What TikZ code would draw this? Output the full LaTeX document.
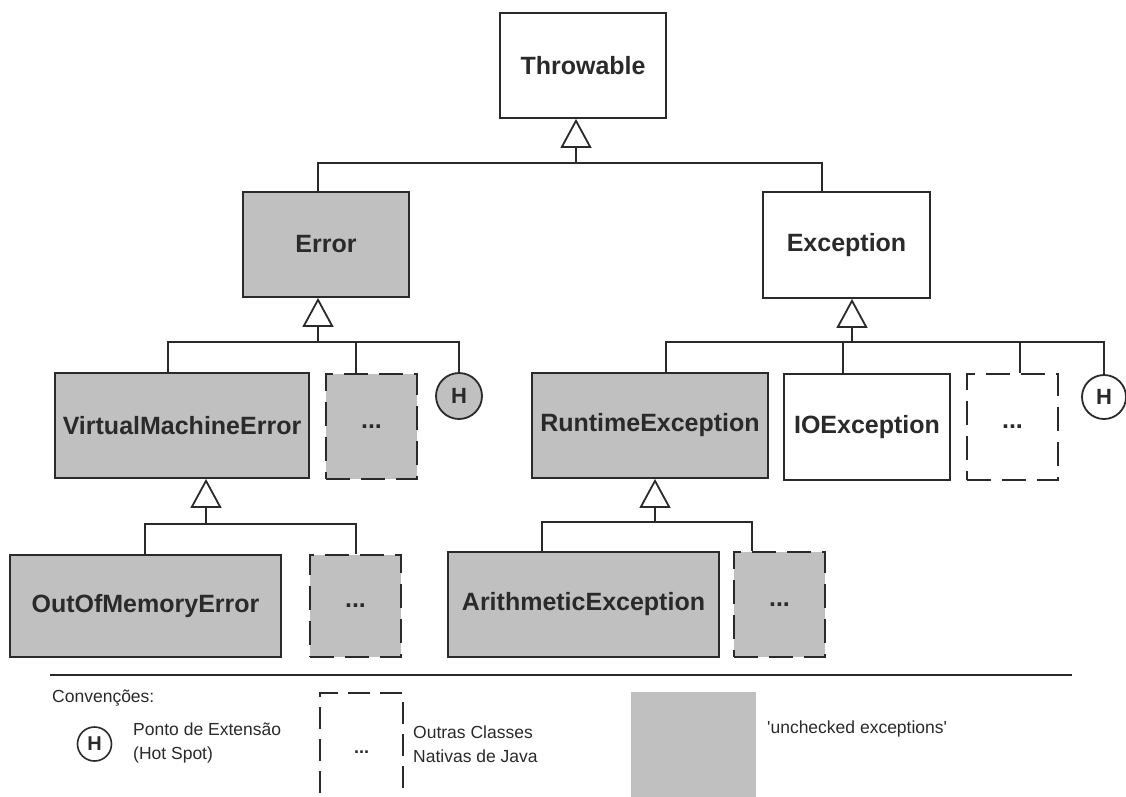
\documentclass[tikz,border=0pt]{standalone}
\usepackage{fontspec}
\setmainfont{Liberation Sans}
\newfontfamily\rawsans{Liberation Sans}
\usetikzlibrary{arrows.meta}
\definecolor{ink}{HTML}{2A2A2A}
\definecolor{unch}{HTML}{C0C0C0}
\begin{document}
\begin{tikzpicture}[x=1pt,y=-1pt,
  line/.style={draw=ink, line width=1.8pt},
  inh/.style={line, -{Triangle[open,length=29pt,width=31pt,fill=white]}},
  cls/.style={draw=ink, line width=1.8pt, fill=white, inner sep=0pt,
    font=\bfseries\fontsize{25}{30}\selectfont, text=ink},
  unc/.style={cls, fill=unch},
  more/.style={dash pattern=on 24pt off 11pt},
  hot/.style={circle, draw=ink, line width=1.8pt, fill=white, inner sep=0pt,
    font=\bfseries\fontsize{22}{26}\selectfont, text=ink},
  note/.style={anchor=west, inner sep=0pt, font=\fontsize{17.5}{24}\selectfont,
    text=ink, align=left}
]
\clip (0,0) rectangle (1126,796);
\fill[white] (0,0) rectangle (1126,796);

% ---- class boxes
\node[cls, minimum width=166pt, minimum height=105pt] (thr) at (583,65.5) {Throwable};
\node[unc, minimum width=166pt, minimum height=105pt] (err) at (326,244.5) {Error};
\node[cls, minimum width=167pt, minimum height=106pt] (exc) at (846.5,245) {Exception};

\node[unc, minimum width=254pt, minimum height=105pt] (vme) at (182,425.5) {VirtualMachineError};
\node[unc, more, minimum width=91pt, minimum height=105pt] (eod) at (371.5,426.5) {...};
\node[hot, fill=unch, minimum size=46pt] (hE) at (459,396) {H};

\node[unc, minimum width=236pt, minimum height=105pt] (rte) at (650,425.5) {RuntimeException};
\node[cls, minimum width=166pt, minimum height=106pt] (ioe) at (867,427) {IOException};
\node[cls, more, minimum width=91pt, minimum height=106pt] (xd) at (1012.5,427) {...};
\node[hot, minimum size=44pt] (hX) at (1104,397) {H};

\node[unc, minimum width=271pt, minimum height=102pt] (oom) at (145.5,606) {OutOfMemoryError};
\node[unc, more, minimum width=91pt, minimum height=102pt] (vd) at (355.5,606) {...};
\node[unc, minimum width=271pt, minimum height=105pt] (ari) at (583.5,604.5) {ArithmeticException};
\node[unc, more, minimum width=91pt, minimum height=105pt] (rd) at (779.5,604.5) {...};

% ---- junctions of the inheritance buses
\coordinate (jT) at (576,163);
\coordinate (jE) at (318,342);
\coordinate (jX) at (852,342);
\coordinate (jV) at (206,524);
\coordinate (jR) at (655,522);

% Throwable
\draw[line] (jT) -| (err.north -| 318,0);
\draw[line] (jT) -| (exc.north -| 822,0);
\draw[inh] (jT) -- (jT |- thr.south);
% Error
\draw[line] (jE) -| (vme.north -| 168,0);
\draw[line] (jE) -| (eod.north -| 356,0);
\draw[line] (jE) -| (hE.north);
\draw[inh] (jE) -- (jE |- err.south);
% Exception
\draw[line] (jX) -| (rte.north -| 666,0);
\draw[line] (jX) -| (ioe.north -| 843,0);
\draw[line] (jX) -| (xd.north -| 1020,0);
\draw[line] (jX) -| (hX.north);
\draw[inh] (jX) -- (jX |- exc.south);
% VirtualMachineError
\draw[line] (jV) -| (oom.north -| 145,0);
\draw[line] (jV) -| (vd.north -| 356,0);
\draw[inh] (jV) -- (jV |- vme.south);
% RuntimeException
\draw[line] (jR) -| (ari.north -| 542,0);
\draw[line] (jR) -| (rd.north -| 752,0);
\draw[inh] (jR) -- (jR |- rte.south);

% ---- legend
\coordinate (lgA) at (50,675);
\coordinate (lgB) at (1072,675);
\draw[line, line width=2pt] (lgA) -- (lgB);
\node[note] (conv) at (52,698) {Convenções:};
\node[hot, minimum size=34pt, line width=1.6pt, font=\bfseries\fontsize{20}{24}\selectfont] (lh) at (94.5,744) {H};
\node[note] (lht) at (133,743) {Ponto de Extensão\\(Hot Spot)};
\node[cls, line width=1.6pt, dash pattern=on 22pt off 10pt, minimum width=83pt, minimum height=140pt] (ld) at (361.5,763) {};
\node[inner sep=0pt, text=ink, font=\bfseries\fontsize{18}{20}\selectfont] (ldt) at (361.5,752) {...};
\node[note] (ldn) at (413,744) {Outras Classes\\Nativas de Java};
\node[fill=unch, inner sep=0pt, minimum width=125pt, minimum height=130pt] (lg) at (693.5,757) {};
\node[note, font=\rawsans\fontsize{17.5}{24}\selectfont] (lgn) at (767,729) {'unchecked exceptions'};
\end{tikzpicture}
\end{document}
